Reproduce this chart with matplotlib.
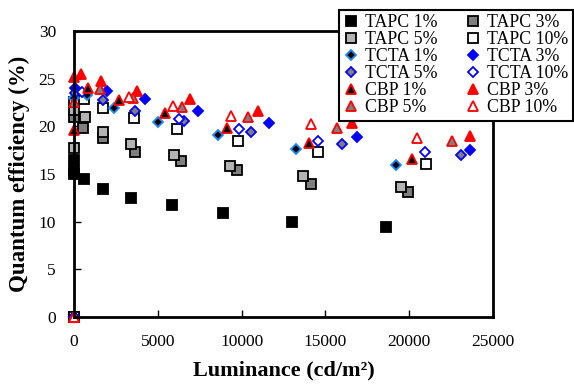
import matplotlib
matplotlib.use("Agg")
import matplotlib.pyplot as plt

plt.rcParams['font.family'] = ['Liberation Serif', 'DejaVu Serif']

# luminance (cd/m2) and quantum efficiency (%)
tapc1_x = [0, 0, 5, 20, 600, 1750, 3400, 5850, 8900, 13000, 18600]
tapc1_y = [0, 16.5, 15.3, 15.0, 14.5, 13.4, 12.5, 11.7, 10.9, 10.0, 9.4]
tapc3_x = [0, 10, 540, 1730, 3640, 6380, 9730, 14140, 19930]
tapc3_y = [0, 21.0, 19.8, 18.8, 17.3, 16.4, 15.4, 14.0, 13.1]
tapc5_x = [0, 5, 20, 650, 1730, 3400, 5970, 9310, 13670, 19500]
tapc5_y = [0, 17.7, 21.7, 21.0, 19.4, 18.1, 17.0, 15.8, 14.8, 13.6]
tapc10_x = [0, 20, 600, 1730, 3580, 6150, 9790, 14560, 21000]
tapc10_y = [0, 22.5, 22.9, 21.9, 20.9, 19.7, 18.5, 17.3, 16.0]

tcta1_x = [0, 20, 780, 2390, 5010, 8590, 13250, 19210]
tcta1_y = [0, 23.0, 23.3, 21.9, 20.5, 19.1, 17.6, 15.9]
tcta3_x = [0, 50, 1970, 4240, 7400, 11640, 16890, 23630]
tcta3_y = [0, 24.0, 23.7, 22.9, 21.6, 20.3, 18.9, 17.5]
tcta5_x = [0, 30, 1730, 3640, 6560, 10560, 15990, 23090]
tcta5_y = [0, 23.5, 22.8, 21.6, 20.6, 19.4, 18.1, 17.0]
tcta10_x = [0, 480, 6270, 9850, 14560, 20950]
tcta10_y = [0, 23.6, 20.8, 19.7, 18.5, 17.3]

cbp1_x = [0, 0, 840, 2690, 5430, 9130, 14020, 20170]
cbp1_y = [0, 19.6, 24.0, 22.8, 21.4, 19.8, 18.3, 16.6]
cbp3_x = [0, 0, 420, 1610, 3760, 6920, 10990, 16590, 23630]
cbp3_y = [0, 25.2, 25.5, 24.8, 23.7, 22.9, 21.6, 20.3, 19.0]
cbp5_x = [0, 10, 1550, 3520, 6440, 10380, 15690, 22550]
cbp5_y = [0, 22.5, 23.9, 23.0, 22.0, 21.0, 19.8, 18.5]
cbp10_x = [0, 3280, 5910, 9370, 14140, 20470]
cbp10_y = [0, 23.1, 22.1, 21.1, 20.2, 18.8]

fig = plt.figure(figsize=(5.74, 3.89), dpi=100)
ax = fig.add_axes([74/574, 1-317/389, 419/574, 286/389])

blue_edge = '#1a8cff'
series = [
    (tapc1_x, tapc1_y, 's', 'black', 'black', 'TAPC 1%', 7),
    (tapc3_x, tapc3_y, 's', '#7f7f7f', 'black', 'TAPC 3%', 7),
    (tapc5_x, tapc5_y, 's', '#b3b3b3', 'black', 'TAPC 5%', 7),
    (tapc10_x, tapc10_y, 's', 'white', 'black', 'TAPC 10%', 7),
    (tcta1_x, tcta1_y, 'D', 'black', blue_edge, 'TCTA 1%', 5.5),
    (tcta3_x, tcta3_y, 'D', '#0000ff', '#0000ff', 'TCTA 3%', 5.5),
    (tcta5_x, tcta5_y, 'D', '#7f7f7f', '#0000ff', 'TCTA 5%', 5.5),
    (tcta10_x, tcta10_y, 'D', 'white', '#0000ff', 'TCTA 10%', 5.5),
    (cbp1_x, cbp1_y, '^', 'black', 'red', 'CBP 1%', 7.5),
    (cbp3_x, cbp3_y, '^', 'red', 'red', 'CBP 3%', 7.5),
    (cbp5_x, cbp5_y, '^', '#7f7f7f', 'red', 'CBP 5%', 7.5),
    (cbp10_x, cbp10_y, '^', 'white', 'red', 'CBP 10%', 7.5),
]
handles = []
for xs, ys, m, fc, ec, lab, ms in series:
    h, = ax.plot(xs, ys, linestyle='none', marker=m, markersize=ms,
                 markerfacecolor=fc, markeredgecolor=ec, markeredgewidth=1.3,
                 label=lab, clip_on=False)
    handles.append(h)

ax.set_xlim(0, 25000)
ax.set_ylim(0, 30)
ax.set_xticks(range(0, 25001, 5000))
ax.set_yticks(range(0, 31, 5))
ax.tick_params(direction='in', length=5, width=1, labelsize=12.5)
ax.tick_params(axis='x', pad=12)
ax.tick_params(axis='y', pad=13)
for s in ax.spines.values():
    s.set_linewidth(2)

ax.set_xlabel('Luminance (cd/m²)', fontsize=16, fontweight='bold', labelpad=8)
ax.set_ylabel('Quantum efficiency (%)', fontsize=16.5, fontweight='bold', labelpad=6)

# legend is filled row by row in the reference
order = [0, 2, 4, 6, 8, 10, 1, 3, 5, 7, 9, 11]
leg = fig.legend([handles[i] for i in order], [handles[i].get_label() for i in order],
                 loc='upper left', bbox_to_anchor=(339/574, 1-10/389), ncol=2,
                 fontsize=12.8, frameon=True, fancybox=False, framealpha=1,
                 edgecolor='black', handlelength=0.8, handletextpad=0.4,
                 columnspacing=1.6, labelspacing=0.0, borderpad=0.25,
                 borderaxespad=0)
leg.get_frame().set_linewidth(1.5)

fig.savefig('out.png', dpi=100)
